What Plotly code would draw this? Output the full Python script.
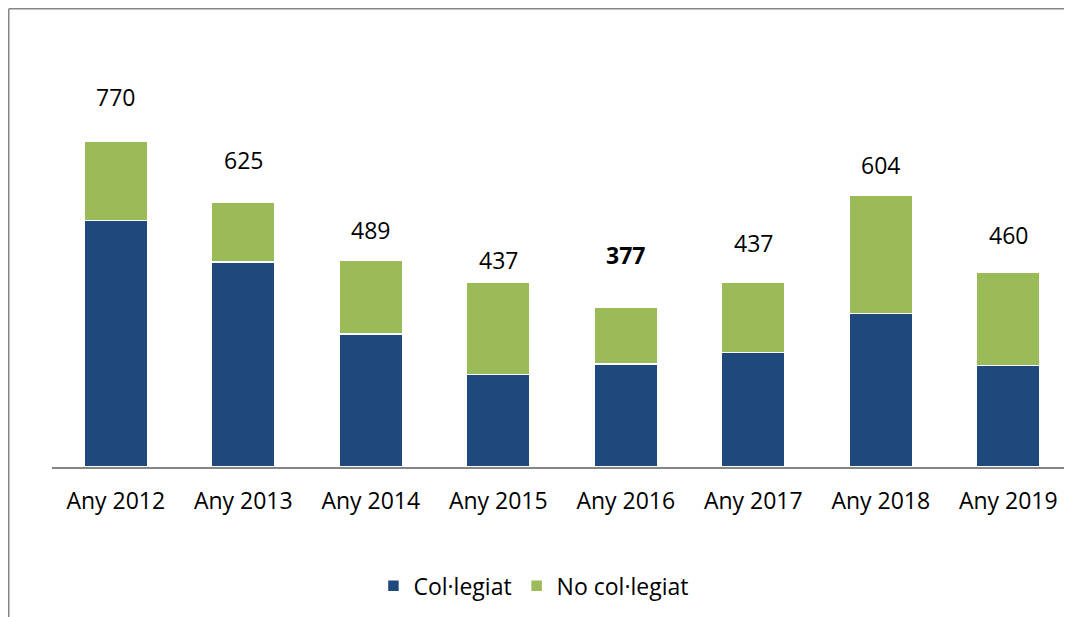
import plotly.graph_objects as go

# data
years = ["Any 2012", "Any 2013", "Any 2014", "Any 2015", "Any 2016", "Any 2017", "Any 2018", "Any 2019"]
colegiat = [583, 485, 314, 219, 244, 271, 363, 240]
no_colegiat = [187, 140, 175, 218, 133, 166, 279, 220]
total_labels = ["770", "625", "489", "437", "<b>377</b>", "437", "604", "460"]
label_y = [875, 726, 560, 489, 501, 529, 714, 548]

BLUE = "#1F497D"
GREEN = "#9BBB59"
GREY = "#868686"
FONT = "Open Sans"

fig = go.Figure()
fig.add_trace(go.Bar(x=years, y=colegiat, name="Col·legiat",
                     marker=dict(color=BLUE, line=dict(color="white", width=1.5))))
fig.add_trace(go.Bar(x=years, y=no_colegiat, name="No col·legiat",
                     marker=dict(color=GREEN, line=dict(color="white", width=1.5))))

for x, t, y in zip(years, total_labels, label_y):
    fig.add_annotation(x=x, y=y, text=t, showarrow=False, yanchor="middle",
                       font=dict(family=FONT, size=23, color="black"))

# chart frame (only left and top edges visible in the picture)
fig.add_shape(type="line", xref="paper", yref="paper", x0=-0.0424, x1=-0.0424, y0=1.0833, y1=-0.5,
              line=dict(color=GREY, width=1.5))
fig.add_shape(type="line", xref="paper", yref="paper", x0=-0.0424, x1=1.1, y0=1.0833, y1=1.0833,
              line=dict(color=GREY, width=1.5))

fig.update_layout(
    width=1072, height=617,
    margin=dict(l=44, r=8, t=36, b=158),
    barmode="stack", bargap=0.5,
    plot_bgcolor="white", paper_bgcolor="white",
    font=dict(family=FONT, size=23, color="black"),
    showlegend=True,
    legend=dict(orientation="h", x=0.472, xanchor="center", y=-0.281, yanchor="middle",
                font=dict(family=FONT, size=23), traceorder="normal", itemwidth=30),
    xaxis=dict(showline=True, linecolor=GREY, linewidth=1.5, ticks="", showgrid=False,
               tickfont=dict(family=FONT, size=23), ticklabelstandoff=13),
    yaxis=dict(range=[0, 1000], visible=False, showgrid=False),
)

fig.write_html("out.html")
